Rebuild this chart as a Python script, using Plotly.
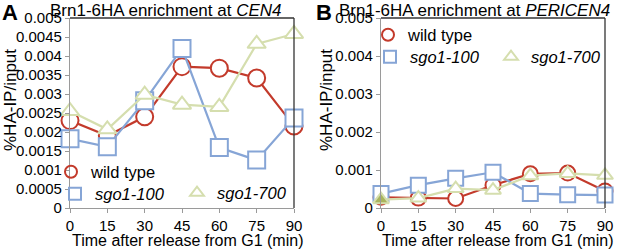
import plotly.graph_objects as go

W, H = 617, 251

time_min = [0, 15, 30, 45, 60, 75, 90]
series_names = ["wild type", "sgo1-100", "sgo1-700"]

# Panel A: CEN4
cen4_wt = [0.0023, 0.0019, 0.0024, 0.00372, 0.00368, 0.00342, 0.00216]
cen4_sgo100 = [0.00182, 0.00161, 0.00282, 0.0042, 0.00159, 0.00126, 0.00237]
cen4_sgo700 = [0.00255, 0.00207, 0.00298, 0.00272, 0.00266, 0.00432, 0.00458]

# Panel B: PERICEN4
peri_wt = [0.00028, 0.00026, 0.00025, 0.0006, 0.0009, 0.00092, 0.00045]
peri_sgo100 = [0.00038, 0.0006, 0.00078, 0.00094, 0.00038, 0.00035, 0.00034]
peri_sgo700 = [0.00022, 0.00026, 0.00051, 0.00047, 0.00085, 0.00091, 0.00086]

yticks_a = [0, 0.0005, 0.001, 0.0015, 0.002, 0.0025, 0.003, 0.0035, 0.004, 0.0045, 0.005]
yticktext_a = ["0", "0.0005", "0.001", "0.0015", "0.002", "0.0025", "0.003", "0.0035", "0.004", "0.0045", "0.005"]
yticks_b = [0, 0.001, 0.002, 0.003, 0.004, 0.005]
yticktext_b = ["0", "0.001", "0.002", "0.003", "0.004", "0.005"]

RED = "#c33a2b"
BLUE = "#86a5d6"
GREEN = "#d5deae"
FONT = "Arial, Liberation Sans, sans-serif"

def px(x):
    return x / W

def py(y):
    return 1 - y / H

fig = go.Figure()

styles = [
    dict(color=RED, symbol="circle-open", lw=2.2),
    dict(color=BLUE, symbol="square-open", lw=2.2),
    dict(color=GREEN, symbol="triangle-up-open", lw=2.2),
]

def add_panel(vals, xa, ya, sizes, fills=None):
    for i, (v, st) in enumerate(zip(vals, styles)):
        mk = dict(symbol=st["symbol"].replace("-open", ""), size=sizes[i],
                  color="white", line=dict(color=st["color"], width=2))
        if fills is not None and fills[i] is not None:
            mk["color"] = fills[i]
        fig.add_trace(go.Scatter(
            x=time_min, y=v, mode="lines+markers", xaxis=xa, yaxis=ya,
            line=dict(color=st["color"], width=st["lw"]),
            marker=mk, cliponaxis=False, showlegend=False))

add_panel([cen4_wt, cen4_sgo100, cen4_sgo700], "x", "y", [17, 17, 16])
add_panel([peri_wt, peri_sgo100, peri_sgo700], "x2", "y2", [15, 15, 14],
          fills=[None, None, ["#a9b45c"] + ["white"] * 6])

# legend-only entries, one legend per entry for exact placement
def legend_entry(i, legend, xa, ya):
    st = styles[i]
    name = series_names[i]
    if i > 0:
        name = "<i>" + name + "</i>"
    fig.add_trace(go.Scatter(
        x=[None], y=[None], mode="markers", xaxis=xa, yaxis=ya, name=name,
        marker=dict(symbol=st["symbol"], size=16, color=st["color"],
                    line=dict(color=st["color"], width=2)),
        legend=legend, showlegend=True))

legend_entry(0, "legend", "x", "y")
legend_entry(1, "legend2", "x", "y")
legend_entry(2, "legend3", "x", "y")
legend_entry(0, "legend4", "x2", "y2")
legend_entry(1, "legend5", "x2", "y2")
legend_entry(2, "legend6", "x2", "y2")

leg_common = dict(bgcolor="rgba(0,0,0,0)", font=dict(family=FONT, size=16.5, color="black"),
                  xanchor="left", yanchor="middle", itemsizing="constant",
                  borderwidth=0)
fig.update_layout(
    legend=dict(x=px(51), y=py(172), **leg_common),
    legend2=dict(x=px(55), y=py(194), **leg_common),
    legend3=dict(x=px(177), y=py(193), **leg_common),
    legend4=dict(x=px(368), y=py(35), **leg_common),
    legend5=dict(x=px(370), y=py(57), **leg_common),
    legend6=dict(x=px(491), y=py(57), **leg_common),
)

axis_common = dict(showgrid=False, zeroline=False, linecolor="#9a9a9a", linewidth=1.2,
                   showline=True, ticks="outside", ticklen=4, tickcolor="#9a9a9a",
                   tickfont=dict(family=FONT, size=15, color="black"))

xA = (70, 294)
xB = (381, 605)
yTop, yBot = 18, 208

fig.update_layout(
    width=W, height=H, margin=dict(l=0, r=0, t=0, b=0, autoexpand=False),
    paper_bgcolor="white", plot_bgcolor="white", showlegend=True,
    xaxis=dict(domain=[px(xA[0]), px(xA[1])], range=[0, 90], tickvals=time_min,
               anchor="y", **axis_common),
    yaxis=dict(domain=[py(yBot), py(yTop)], range=[0, 0.005], tickvals=yticks_a,
               ticktext=yticktext_a, anchor="x", **axis_common),
    xaxis2=dict(domain=[px(xB[0]), px(xB[1])], range=[0, 90], tickvals=time_min,
                anchor="y2", **axis_common),
    yaxis2=dict(domain=[py(yBot), py(yTop)], range=[0, 0.005], tickvals=yticks_b,
                ticktext=yticktext_b, anchor="x2", **axis_common),
)

# black top/right frame lines
for xa, ya in (("x", "y"), ("x2", "y2")):
    fig.add_shape(type="line", xref=xa + " domain", yref=ya + " domain",
                  x0=0, x1=1, y0=1, y1=1, line=dict(color="#333333", width=1.3))
    fig.add_shape(type="line", xref=xa + " domain", yref=ya + " domain",
                  x0=1, x1=1, y0=0, y1=1, line=dict(color="#333333", width=1.3))

def ann(text, x, y, size, bold=False, angle=0, xanchor="center"):
    fig.add_annotation(text=("<b>" + text + "</b>") if bold else text,
                       xref="paper", yref="paper", x=px(x), y=py(y),
                       xanchor=xanchor, yanchor="middle", showarrow=False,
                       textangle=angle,
                       font=dict(family=FONT, size=size, color="black"))

ann("A", 0, 13, 22, bold=True, xanchor="left")
ann("B", 314, 13, 22, bold=True, xanchor="left")
ann("Brn1-6HA enrichment at <i>CEN4</i>", 166, 11, 17)
ann("Brn1-6HA enrichment at <i>PERICEN4</i>", 474, 11, 17)
ann("%HA-IP/input", 10, 100, 17, angle=-90)
ann("%HA-IP/input", 326, 100, 17, angle=-90)
ann("Time after release from G1 (min)", 187, 240, 16)
ann("Time after release from G1 (min)", 497, 240, 16)

fig.write_html("out.html", config={"displayModeBar": False},
               post_script="document.body.style.margin='0';")
